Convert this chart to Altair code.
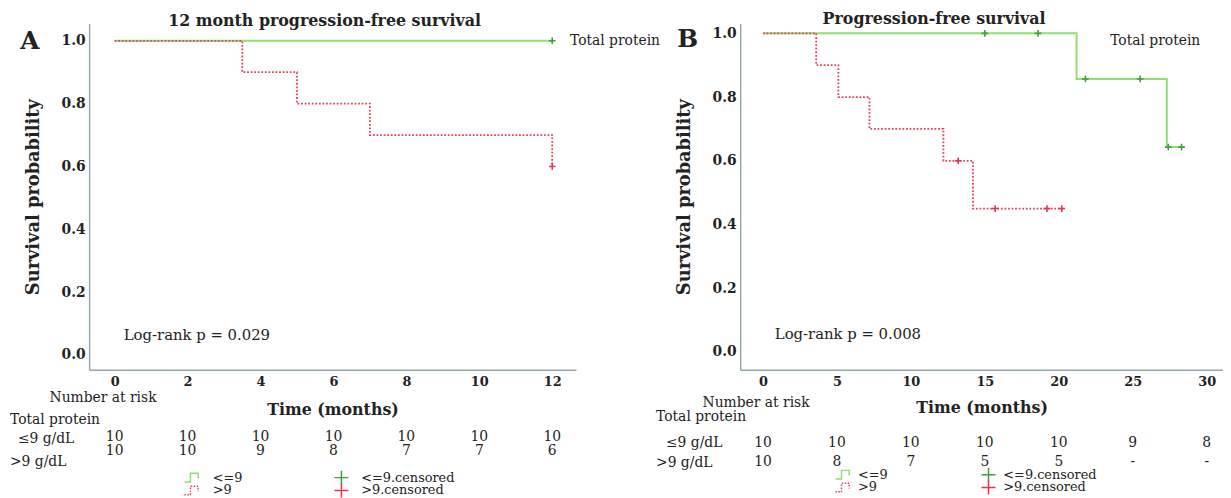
import altair as alt
import pandas as pd

FONT = "DejaVu Serif"
GREEN = "#8fdf72"
GREEN_C = "#3f9f3f"
RED = "#e8405c"
RED_C = "#e8334f"
AXIS_C = "#93a6aa"
TXT = "#222222"

# ---------------- Panel A data ----------------
a_le9_time = [0, 12]
a_le9_surv = [1.0, 1.0]
a_gt9_time = [0, 3.5, 5, 7, 12]
a_gt9_surv = [1.0, 0.9, 0.8, 0.7, 0.6]
a_le9_cens_time = [12]
a_le9_cens_surv = [1.0]
a_gt9_cens_time = [12]
a_gt9_cens_surv = [0.6]
a_ticks = [0, 2, 4, 6, 8, 10, 12]
a_risk_le9 = ["10", "10", "10", "10", "10", "10", "10"]
a_risk_gt9 = ["10", "10", "9", "8", "7", "7", "6"]

# ---------------- Panel B data ----------------
b_le9_time = [0, 21.2, 27.3, 28.3]
b_le9_surv = [1.0, 0.857, 0.643, 0.643]
b_gt9_time = [0, 3.6, 5.1, 7.2, 12.2, 14.2, 20.3]
b_gt9_surv = [1.0, 0.9, 0.8, 0.7, 0.6, 0.45, 0.45]
b_le9_cens_time = [15.0, 18.6, 21.8, 25.5, 27.4, 28.3]
b_le9_cens_surv = [1.0, 1.0, 0.857, 0.857, 0.643, 0.643]
b_gt9_cens_time = [13.2, 15.7, 19.2, 20.2]
b_gt9_cens_surv = [0.6, 0.45, 0.45, 0.45]
b_ticks = [0, 5, 10, 15, 20, 25, 30]
b_risk_le9 = ["10", "10", "10", "10", "10", "9", "8"]
b_risk_gt9 = ["10", "8", "7", "5", "5", "-", "-"]

y_ticks = [0.0, 0.2, 0.4, 0.6, 0.8, 1.0]

CROSS = "M-1,0L1,0M0,-1L0,1"
STEP = "M-1,0.5L-0.3,0.5L-0.3,-0.5L0.6,-0.5L0.6,0.1"


def text_layer(label, x, y, size=14, weight="normal", align="left", color=TXT):
    return alt.Chart(pd.DataFrame({"label": [label]})).mark_text(
        font=FONT, fontSize=size, fontWeight=weight, align=align,
        baseline="middle", color=color
    ).encode(x=alt.value(x), y=alt.value(y), text="label:N")


def panel(p):
    W, H = p["W"], p["H"]
    xs = alt.Scale(domain=p["xdom"], nice=False, zero=False)
    ys = alt.Scale(domain=p["ydom"], nice=False, zero=False)
    xax = alt.Axis(values=p["ticks"], ticks=False, grid=False, domainColor=AXIS_C,
                   domainWidth=1.5, labelFont=FONT, labelFontSize=13, labelFontWeight="bold",
                   labelColor=TXT, labelPadding=6, title="Time (months)", titleFont=FONT,
                   titleFontSize=16, titleFontWeight="bold", titleColor=TXT,
                   titlePadding=p["xtp"])
    yax = alt.Axis(values=y_ticks, format=".1f", ticks=False, grid=False, domainColor=AXIS_C,
                   domainWidth=1.5, labelFont=FONT, labelFontSize=14, labelFontWeight="bold",
                   labelColor=TXT, labelPadding=4, title="Survival probability", titleFont=FONT,
                   titleFontSize=18, titleFontWeight="bold", titleColor=TXT, titlePadding=19)

    le9 = pd.DataFrame({"t": p["le9_t"], "s": p["le9_s"]})
    gt9 = pd.DataFrame({"t": p["gt9_t"], "s": p["gt9_s"]})
    le9c = pd.DataFrame({"t": p["le9c_t"], "s": p["le9c_s"]})
    gt9c = pd.DataFrame({"t": p["gt9c_t"], "s": p["gt9c_s"]})

    g_line = alt.Chart(le9).mark_line(interpolate="step-after", color=GREEN, strokeWidth=2).encode(
        x=alt.X("t:Q", scale=xs, axis=xax), y=alt.Y("s:Q", scale=ys, axis=yax))
    r_line = alt.Chart(gt9).mark_line(interpolate="step-after", color=RED, strokeWidth=1.8,
                                      strokeDash=[1.8, 1.8]).encode(
        x=alt.X("t:Q", scale=xs), y=alt.Y("s:Q", scale=ys))
    g_c = alt.Chart(le9c).mark_point(shape=CROSS, size=45, strokeWidth=1.6, color=GREEN_C,
                                     opacity=1).encode(x=alt.X("t:Q", scale=xs), y=alt.Y("s:Q", scale=ys))
    r_c = alt.Chart(gt9c).mark_point(shape=CROSS, size=45, strokeWidth=1.6, color=RED_C,
                                     opacity=1).encode(x=alt.X("t:Q", scale=xs), y=alt.Y("s:Q", scale=ys))

    risk = pd.DataFrame({"t": p["ticks"], "le9": p["risk_le9"], "gt9": p["risk_gt9"]})
    r1 = alt.Chart(risk).mark_text(font=FONT, fontSize=14, color=TXT, baseline="middle").encode(
        x=alt.X("t:Q", scale=xs), y=alt.value(p["row1"]), text="le9:N")
    r2 = alt.Chart(risk).mark_text(font=FONT, fontSize=14, color=TXT, baseline="middle").encode(
        x=alt.X("t:Q", scale=xs), y=alt.value(p["row2"]), text="gt9:N")

    L = p["lab"]
    gap = p["lgap"]
    o1, o2 = p["loff"]
    texts = [
        text_layer(p["letter"], L["letter"][0], L["letter"][1], size=25, weight="bold", align="center"),
        text_layer(p["title"], L["title"][0], L["title"][1], size=16, weight="bold", align="center"),
        text_layer("Total protein", L["tp"][0], L["tp"][1]),
        text_layer(p["logrank"], L["lr"][0], L["lr"][1], size=15),
        text_layer("Number at risk", L["nar"][0], L["nar"][1]),
        text_layer("Total protein", L["tp2"][0], L["tp2"][1]),
        text_layer("\u22649 g/dL", L["le9"][0], L["le9"][1]),
        text_layer(">9 g/dL", L["gt9"][0], L["gt9"][1]),
        text_layer("<=9", L["lg1"][0] + o1, L["lg1"][1], size=13),
        text_layer(">9", L["lg1"][0] + o1, L["lg1"][1] + gap, size=13),
        text_layer("<=9.censored", L["lg2"][0] + o2, L["lg1"][1], size=13),
        text_layer(">9.censored", L["lg2"][0] + o2, L["lg1"][1] + gap, size=13),
    ]
    one = pd.DataFrame({"k": [0]})
    icons = [
        alt.Chart(one).mark_point(shape=STEP, size=300, strokeWidth=1.5, color=GREEN, opacity=1).encode(
            x=alt.value(L["lg1"][0]), y=alt.value(L["lg1"][1])),
        alt.Chart(one).mark_point(shape=STEP, size=300, strokeWidth=1.5, color=RED, opacity=1,
                                  strokeDash=[1.5, 1.5]).encode(
            x=alt.value(L["lg1"][0]), y=alt.value(L["lg1"][1] + gap)),
        alt.Chart(one).mark_point(shape=CROSS, size=200, strokeWidth=1.5, color=GREEN_C, opacity=1).encode(
            x=alt.value(L["lg2"][0]), y=alt.value(L["lg1"][1])),
        alt.Chart(one).mark_point(shape=CROSS, size=200, strokeWidth=1.5, color=RED_C, opacity=1).encode(
            x=alt.value(L["lg2"][0]), y=alt.value(L["lg1"][1] + gap)),
    ]
    return alt.layer(g_line, r_line, g_c, r_c, r1, r2, *texts, *icons).properties(width=W, height=H)


pA = dict(W=492, H=350, xdom=[-0.7, 12.65], ydom=[-0.047, 1.055], ticks=a_ticks, xtp=13,
          le9_t=a_le9_time, le9_s=a_le9_surv, gt9_t=a_gt9_time, gt9_s=a_gt9_surv,
          le9c_t=a_le9_cens_time, le9c_s=a_le9_cens_surv, gt9c_t=a_gt9_cens_time, gt9c_s=a_gt9_cens_surv,
          risk_le9=a_risk_le9, risk_gt9=a_risk_gt9, row1=418, row2=432, lgap=13, loff=(20, 20),
          letter="A", title="12 month progression-free survival", logrank="Log-rank p = 0.029",
          lab=dict(letter=(-60, 18), title=(238, -2), tp=(486, 18), lr=(35, 315), nar=(-40, 379),
                   tp2=(-80, 401), le9=(-72, 420), gt9=(-80, 443), lg1=(105, 459), lg2=(255, 459)))

pB = dict(W=488, H=350, xdom=[-1.54, 31.1], ydom=[-0.056, 1.031], ticks=b_ticks, xtp=11,
          le9_t=b_le9_time, le9_s=b_le9_surv, gt9_t=b_gt9_time, gt9_s=b_gt9_surv,
          le9c_t=b_le9_cens_time, le9c_s=b_le9_cens_surv, gt9c_t=b_gt9_cens_time, gt9c_s=b_gt9_cens_surv,
          risk_le9=b_risk_le9, risk_gt9=b_risk_gt9, row1=424, row2=443, lgap=13, loff=(14, 15),
          letter="B", title="Progression-free survival", logrank="Log-rank p = 0.008",
          lab=dict(letter=(-53, 16), title=(196, -4), tp=(374, 18), lr=(35, 314), nar=(-38, 384),
                   tp2=(-85, 398), le9=(-75, 424), gt9=(-85, 444), lg1=(105, 456), lg2=(251, 456)))

chart = alt.hconcat(panel(pA), panel(pB), spacing=166, bounds="flush").configure_view(
    stroke=None).properties(padding={"left": 2, "top": 1, "right": 0, "bottom": 0}, background="white")

chart.save("out.html", embed_options={"renderer": "svg", "actions": False})
